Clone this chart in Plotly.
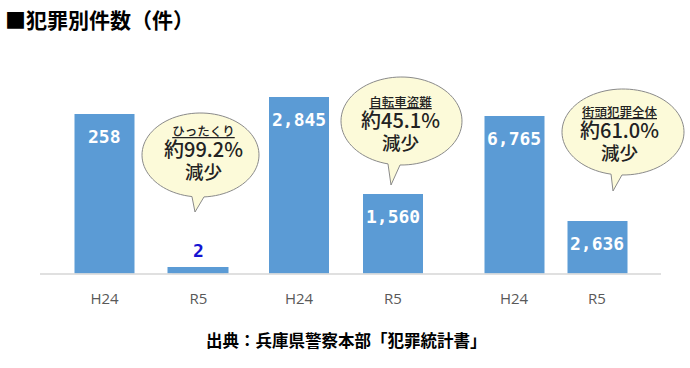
import math
import plotly.graph_objects as go

# ---------------- data ----------------
categories = ["H24", "R5"]
group_names = ["ひったくり", "自転車盗難", "街頭犯罪全体"]
hittakuri = [258, 2]
jitensha = [2845, 1560]
gaitou = [6765, 2636]
groups = [hittakuri, jitensha, gaitou]
reduction_pct = ["約99.2%", "約45.1%", "約61.0%"]
reduction_word = "減少"
title_text = "■犯罪別件数（件）"
source_text = "出典：兵庫県警察本部「犯罪統計書」"

# ---------------- styling / layout ----------------
W, H = 690, 368
BAR = "#5b9bd5"
JP = "Noto Sans CJK JP"
MONO = "DejaVu Sans Mono"

def px(x):
    return x / W

def py(y):
    return 1 - y / H

plot_top, plot_bottom = 60, 273.5
x_domains_px = [(57.5, 245.5), (252, 440), (472.5, 638.5)]
y_ranges = [(0, 345.4), (506.8, 3335.2), (571.5, 8967)]
bar_widths = [[0.628, 0.543], [0.638, 0.638], [0.723, 0.723]]
line_widths = [[0, 9], [0, 0], [0, 0]]
label_inside = [[True, False], [True, True], [True, True]]

fig = go.Figure()
layout = dict(
    width=W, height=H,
    margin=dict(l=0, r=0, t=0, b=0),
    paper_bgcolor="white", plot_bgcolor="rgba(0,0,0,0)",
    showlegend=False,
    bargap=0,
)
annotations = []
shapes = []

for i, vals in enumerate(groups):
    sfx = "" if i == 0 else str(i + 1)
    xa, ya = "x" + sfx, "y" + sfx
    fig.add_trace(go.Bar(
        x=categories, y=vals, xaxis=xa, yaxis=ya,
        width=bar_widths[i],
        marker=dict(color=BAR, line=dict(color=BAR, width=line_widths[i])),
        hoverinfo="skip",
    ))
    layout["xaxis" + sfx] = dict(
        domain=[px(x_domains_px[i][0]), px(x_domains_px[i][1])],
        anchor=ya, range=[-0.5, 1.5], type="category",
        showgrid=False, zeroline=False, showline=False,
        ticks="", ticklabelstandoff=14,
        tickfont=dict(family="Open Sans", size=15, color="#595959"),
    )
    layout["yaxis" + sfx] = dict(
        domain=[py(plot_bottom), py(plot_top)],
        anchor=xa, range=list(y_ranges[i]),
        visible=False, showgrid=False, zeroline=False,
    )
    for c, v, inside in zip(categories, vals, label_inside[i]):
        annotations.append(dict(
            x=c, y=v, xref=xa, yref=ya, text=f"<b>{v:,}</b>", showarrow=False,
            yanchor="middle", xanchor="center",
            yshift=-22 if inside else 22,
            font=dict(family=MONO, size=18,
                      color="white" if inside else "#1414d2"),
        ))

# baseline
shapes.append(dict(type="line", xref="paper", yref="paper",
                   x0=px(40), x1=px(661), y0=py(274), y1=py(274),
                   line=dict(color="#d6d6d6", width=1.5)))

# callouts: (cx, cy, rx, ry, theta_left, theta_right, tip)
callouts = [
    (200.5, 155, 58.5, 42, 98.4, 86.6, (195, 212)),
    (401.5, 121, 60.5, 44, 102.9, 91.4, (391, 185)),
    (623, 132, 61, 43, 101.3, 91.0, (613, 191)),
]
text_centers = [(203, 152.5), (400, 124), (619, 134)]
for k, (cx, cy, rx, ry, tl, tr, tip) in enumerate(callouts):
    pts = []
    n = 90
    a0, a1 = tl, tr + 360
    for j in range(n + 1):
        a = math.radians(a0 + (a1 - a0) * j / n)
        pts.append((cx + rx * math.cos(a), cy + ry * math.sin(a)))
    pts.append(tip)
    path = "M " + " L ".join(f"{px(x):.5f},{py(y):.5f}" for x, y in pts) + " Z"
    shapes.append(dict(type="path", xref="paper", yref="paper", path=path,
                       fillcolor="#fcfad9", line=dict(color="#8a8a8a", width=1)))
    tx, ty = text_centers[k]
    txt = (f"<span style='font-size:12.5px'><u>{group_names[k]}</u></span><br>"
           f"<span style='font-size:20px'>{reduction_pct[k]}</span><br>"
           f"<span style='font-size:18.5px'>{reduction_word}</span>")
    annotations.append(dict(x=px(tx), y=py(ty), xref="paper", yref="paper",
                            text=txt, showarrow=False,
                            xanchor="center", yanchor="middle", align="center",
                            font=dict(family=JP, size=16.5, color="#222", weight=500)))

# title & source
annotations.append(dict(x=px(3), y=py(19.5), xref="paper", yref="paper",
                        text=f"<b>{title_text}</b>", showarrow=False,
                        xanchor="left", yanchor="middle",
                        font=dict(family=JP, size=21, color="black")))
annotations.append(dict(x=px(346), y=py(339.5), xref="paper", yref="paper",
                        text=f"<b>{source_text}</b>", showarrow=False,
                        xanchor="center", yanchor="middle",
                        font=dict(family=JP, size=16.5, color="black")))

layout["annotations"] = annotations
layout["shapes"] = shapes
fig.update_layout(**layout)
fig.write_html("out.html",
               config={"displayModeBar": False},
               post_script="document.body.style.margin='0';document.body.style.overflow='hidden';")
